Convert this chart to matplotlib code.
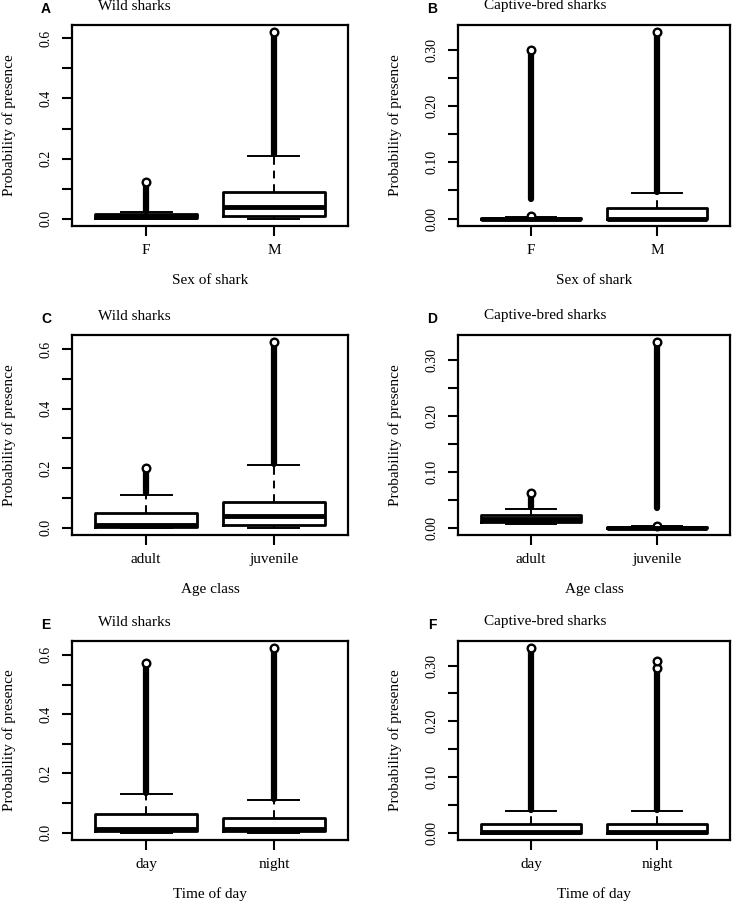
import matplotlib
matplotlib.use("Agg")
import matplotlib.pyplot as plt

plt.rcParams["font.family"] = ["Liberation Serif", "DejaVu Serif"]

# panel texts
panel_letters = ["A", "B", "C", "D", "E", "F"]
panel_titles = ["Wild sharks", "Captive-bred sharks"] * 3
x_labels = ["Sex of shark", "Sex of shark", "Age class", "Age class",
            "Time of day", "Time of day"]
categories = [["F", "M"], ["F", "M"], ["adult", "juvenile"],
              ["adult", "juvenile"], ["day", "night"], ["day", "night"]]

# box statistics (per panel, per group)
q1 = [[0.001, 0.009], [0.0, 0.0], [0.003, 0.009],
      [0.0107, 0.0], [0.004, 0.004], [0.0, 0.0]]
med = [[0.004, 0.039], [0.0, 0.0], [0.010, 0.040],
       [0.016, 0.0], [0.012, 0.012], [0.002, 0.002]]
q3 = [[0.014, 0.089], [0.001, 0.018], [0.050, 0.0875],
      [0.0226, 0.001], [0.062, 0.048], [0.015, 0.015]]
whislo = [[0.0, 0.0], [0.0, 0.0], [0.0, 0.0],
          [0.0065, 0.0], [0.0, 0.0], [0.0, 0.0]]
whishi = [[0.021, 0.21], [0.002, 0.0446], [0.11, 0.21],
          [0.034, 0.002], [0.13, 0.11], [0.038, 0.038]]
# outliers: dense run from out_lo to out_hi, plus isolated points
out_lo = [[0.024, 0.215], [0.035, 0.047], [0.115, 0.215],
          [0.036, 0.035], [0.135, 0.115], [0.040, 0.040]]
out_hi = [[0.122, 0.620], [0.300, 0.331], [0.200, 0.623],
          [0.062, 0.331], [0.572, 0.622], [0.331, 0.296]]
out_extra = [[[], []], [[0.004], []], [[], []],
             [[], [0.003]], [[], []], [[], [0.309]]]

# y ticks
wild_ticks = [0.0, 0.1, 0.2, 0.3, 0.4, 0.5, 0.6]
wild_labels = ["0.0", "", "0.2", "", "0.4", "", "0.6"]
capt_ticks = [0.0, 0.05, 0.10, 0.15, 0.20, 0.25, 0.30]
capt_labels = ["0.00", "", "0.10", "", "0.20", "", "0.30"]

W, H = 737, 906
fig = plt.figure(figsize=(W / 100, H / 100), dpi=100)

col_x = [(72, 276), (458, 272)]
row_y = [(25, 201), (335, 200), (641, 199)]

for i in range(6):
    r, c = divmod(i, 2)
    x0, w = col_x[c]
    y0, h = row_y[r]
    ax = fig.add_axes([x0 / W, 1 - (y0 + h) / H, w / W, h / H])

    stats = []
    for j in range(2):
        stats.append(dict(med=med[i][j], q1=q1[i][j], q3=q3[i][j],
                          whislo=whislo[i][j], whishi=whishi[i][j],
                          fliers=[out_hi[i][j]] + out_extra[i][j]))

    ax.vlines([1, 2], out_lo[i], out_hi[i], color="black", lw=4.5,
              capstyle="round", zorder=1.5)
    ax.bxp(stats, positions=[1, 2], widths=0.8, capwidths=0.4,
           boxprops=dict(color="black", lw=2.0),
           medianprops=dict(color="black", lw=3.5, solid_capstyle="butt"),
           whiskerprops=dict(color="black", lw=1.4, linestyle=(0, (4, 3))),
           capprops=dict(color="black", lw=1.4),
           flierprops=dict(marker="o", mfc="white", mec="black", ms=5.5,
                           mew=1.7),
           zorder=2)

    allmax = max(out_hi[i] + [v for e in out_extra[i] for v in e])
    allmin = min(whislo[i])
    rng = allmax - allmin
    ax.set_ylim(allmin - 0.04 * rng, allmax + 0.04 * rng)
    ax.set_xlim(0.5 - 0.08, 2.5 + 0.08)

    if c == 0:
        ax.set_yticks(wild_ticks)
        ax.set_yticklabels(wild_labels)
    else:
        ax.set_yticks(capt_ticks)
        ax.set_yticklabels(capt_labels)
    ax.set_xticks([1, 2])
    ax.set_xticklabels(categories[i], fontsize=11)
    ax.tick_params(axis="y", length=7, width=1.5, labelsize=10, pad=7,
                   labelrotation=90)
    for lab in ax.get_yticklabels():
        lab.set_va("center")
    ax.tick_params(axis="x", length=7, width=1.5, pad=6)

    for sp in ax.spines.values():
        sp.set_linewidth(1.6)

    ax.set_ylabel("Probability of presence", fontsize=11)
    ax.yaxis.set_label_coords(-63 / w, 0.5)
    ax.yaxis.label.set_va("center")
    ax.set_xlabel(x_labels[i], fontsize=11)
    ax.xaxis.set_label_coords(0.5, -54 / h)
    ax.xaxis.label.set_va("center")

    fig.text((x0 + 26) / W, 1 - (y0 - 19) / H, panel_titles[i],
             fontsize=11, ha="left", va="center")
    fig.text((x0 - 26) / W, 1 - (y0 - 16) / H, panel_letters[i],
             fontsize=10, fontweight="bold", family="Liberation Sans",
             ha="center", va="center")

fig.savefig("out.png", dpi=100, facecolor="white")
